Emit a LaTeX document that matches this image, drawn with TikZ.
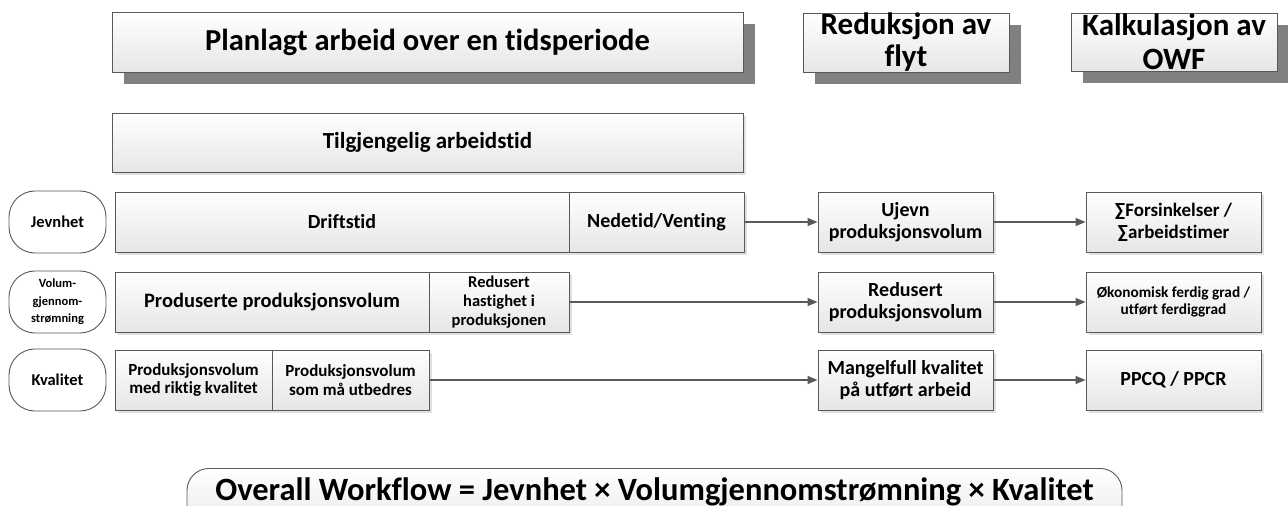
\documentclass[tikz,border=0pt]{standalone}
\usepackage{fontspec}
\setmainfont{Carlito}[Ligatures=NoCommon]
\usetikzlibrary{shadows,arrows.meta}
\definecolor{linecol}{HTML}{595959}
\definecolor{boxbot}{HTML}{E6E6E6}
\definecolor{bigshadow}{HTML}{808080}
\newcommand{\fs}[2]{\fontsize{#1}{#2}\selectfont\bfseries}
\begin{document}
\begin{tikzpicture}[x=1pt,y=-1pt,
  box/.style={draw=linecol, line width=0.9pt, top color=white, bottom color=boxbot,
    inner sep=0pt, align=center, text=black,
    drop shadow={shadow xshift=3pt, shadow yshift=-3pt, fill=black, opacity=0.12}},
  titlebox/.style={draw=linecol, line width=0.9pt, top color=white, bottom color=boxbot,
    inner sep=0pt, align=center, text=black,
    drop shadow={shadow xshift=12pt, shadow yshift=-12pt, fill=bigshadow, opacity=1}},
  oval/.style={draw=linecol, line width=0.9pt, fill=white, rounded corners=26pt,
    inner sep=0pt, align=center, minimum width=97pt, minimum height=62pt},
  arr/.style={draw=linecol, line width=1.3pt, -{Triangle[length=10pt,width=8pt]}},
]
\useasboundingbox (0,0) rectangle (1288,506);
\fill[white] (0,0) rectangle (1288,506);

% title row
\node[titlebox, minimum width=631pt, minimum height=60pt, font=\fs{30.5}{34}] (plan) at (427.5,42)
  {Planlagt arbeid over en tidsperiode};
\node[titlebox, minimum width=206pt, minimum height=59pt, font=\fs{31}{32}] (red) at (906,42.5)
  {Reduksjon av\\ flyt};
\node[titlebox, minimum width=206pt, minimum height=58pt, font=\fs{31}{34}] (kalk) at (1174,42)
  {Kalkulasjon av\\ OWF};

\node[box, minimum width=631pt, minimum height=59pt, font=\fs{23}{26}] (tilg) at (427.5,142.5)
  {Tilgjengelig arbeidstid};

% row 1
\node[oval, font=\fs{16.5}{19}] (jev) at (57.5,222) {Jevnhet};
\node[box, minimum width=454pt, minimum height=60pt, font=\fs{20}{23}] (drift) at (342,222)
  {Driftstid};
\node[box, minimum width=175pt, minimum height=60pt, font=\fs{20}{23}] (ned) at (656.5,222)
  {Nedetid/Venting};
\node[box, minimum width=175pt, minimum height=60pt, font=\fs{20}{22}] (ujevn) at (905.5,222)
  {Ujevn\\ produksjonsvolum};
\node[box, minimum width=175pt, minimum height=60pt, font=\fs{19}{22}] (fors) at (1173.5,222)
  {∑Forsinkelser /\\ ∑arbeidstimer};

% row 2
\node[oval, font=\fs{12.5}{17.5}] (vol) at (57.5,302) {Volum-\\ gjennom-\\ strømning};
\node[box, minimum width=314pt, minimum height=60pt, font=\fs{20.5}{23}] (prod) at (272,302)
  {Produserte produksjonsvolum};
\node[box, minimum width=140pt, minimum height=60pt, font=\fs{16.5}{19}] (hast) at (499,302)
  {Redusert\\ hastighet i\\ produksjonen};
\node[box, minimum width=175pt, minimum height=60pt, font=\fs{20}{22}] (redprod) at (905.5,302)
  {Redusert\\ produksjonsvolum};
\node[box, minimum width=175pt, minimum height=60pt, font=\fs{15.3}{17.5}] (okon) at (1173.5,302)
  {Økonomisk ferdig grad /\\ utført ferdiggrad};

% row 3
\node[oval, font=\fs{16.5}{19}] (kval) at (57.5,380) {Kvalitet};
\node[box, minimum width=157pt, minimum height=60pt, font=\fs{17}{18.5}] (rikt) at (193.5,380)
  {Produksjonsvolum\\ med riktig kvalitet};
\node[box, minimum width=157pt, minimum height=60pt, font=\fs{17}{18.5}] (utb) at (350.5,380)
  {Produksjonsvolum\\ som må utbedres};
\node[box, minimum width=175pt, minimum height=60pt, font=\fs{20}{22}] (mang) at (905.5,380)
  {Mangelfull kvalitet\\ på utført arbeid};
\node[box, minimum width=175pt, minimum height=60pt, font=\fs{20}{24}] (ppcq) at (1173.5,380)
  {PPCQ / PPCR};

% arrows
\draw[arr] (ned.east) -- (ujevn.west);
\draw[arr] (ujevn.east) -- (fors.west);
\draw[arr] (hast.east) -- (redprod.west);
\draw[arr] (redprod.east) -- (okon.west);
\draw[arr] (utb.east) -- (mang.west);
\draw[arr] (mang.east) -- (ppcq.west);

% overall
\node[draw=linecol, line width=0.9pt, top color=white, bottom color=boxbot,
  rounded corners=22pt, minimum width=935pt, minimum height=70pt, inner sep=0pt,
  anchor=north] (owf) at (654.5,468) {};
\node[anchor=base, inner sep=0pt, font=\fs{32.5}{36}] (owft) at (654.5,500)
  {Overall Workflow = Jevnhet × Volumgjennomstrømning × Kvalitet};
\end{tikzpicture}
\end{document}
